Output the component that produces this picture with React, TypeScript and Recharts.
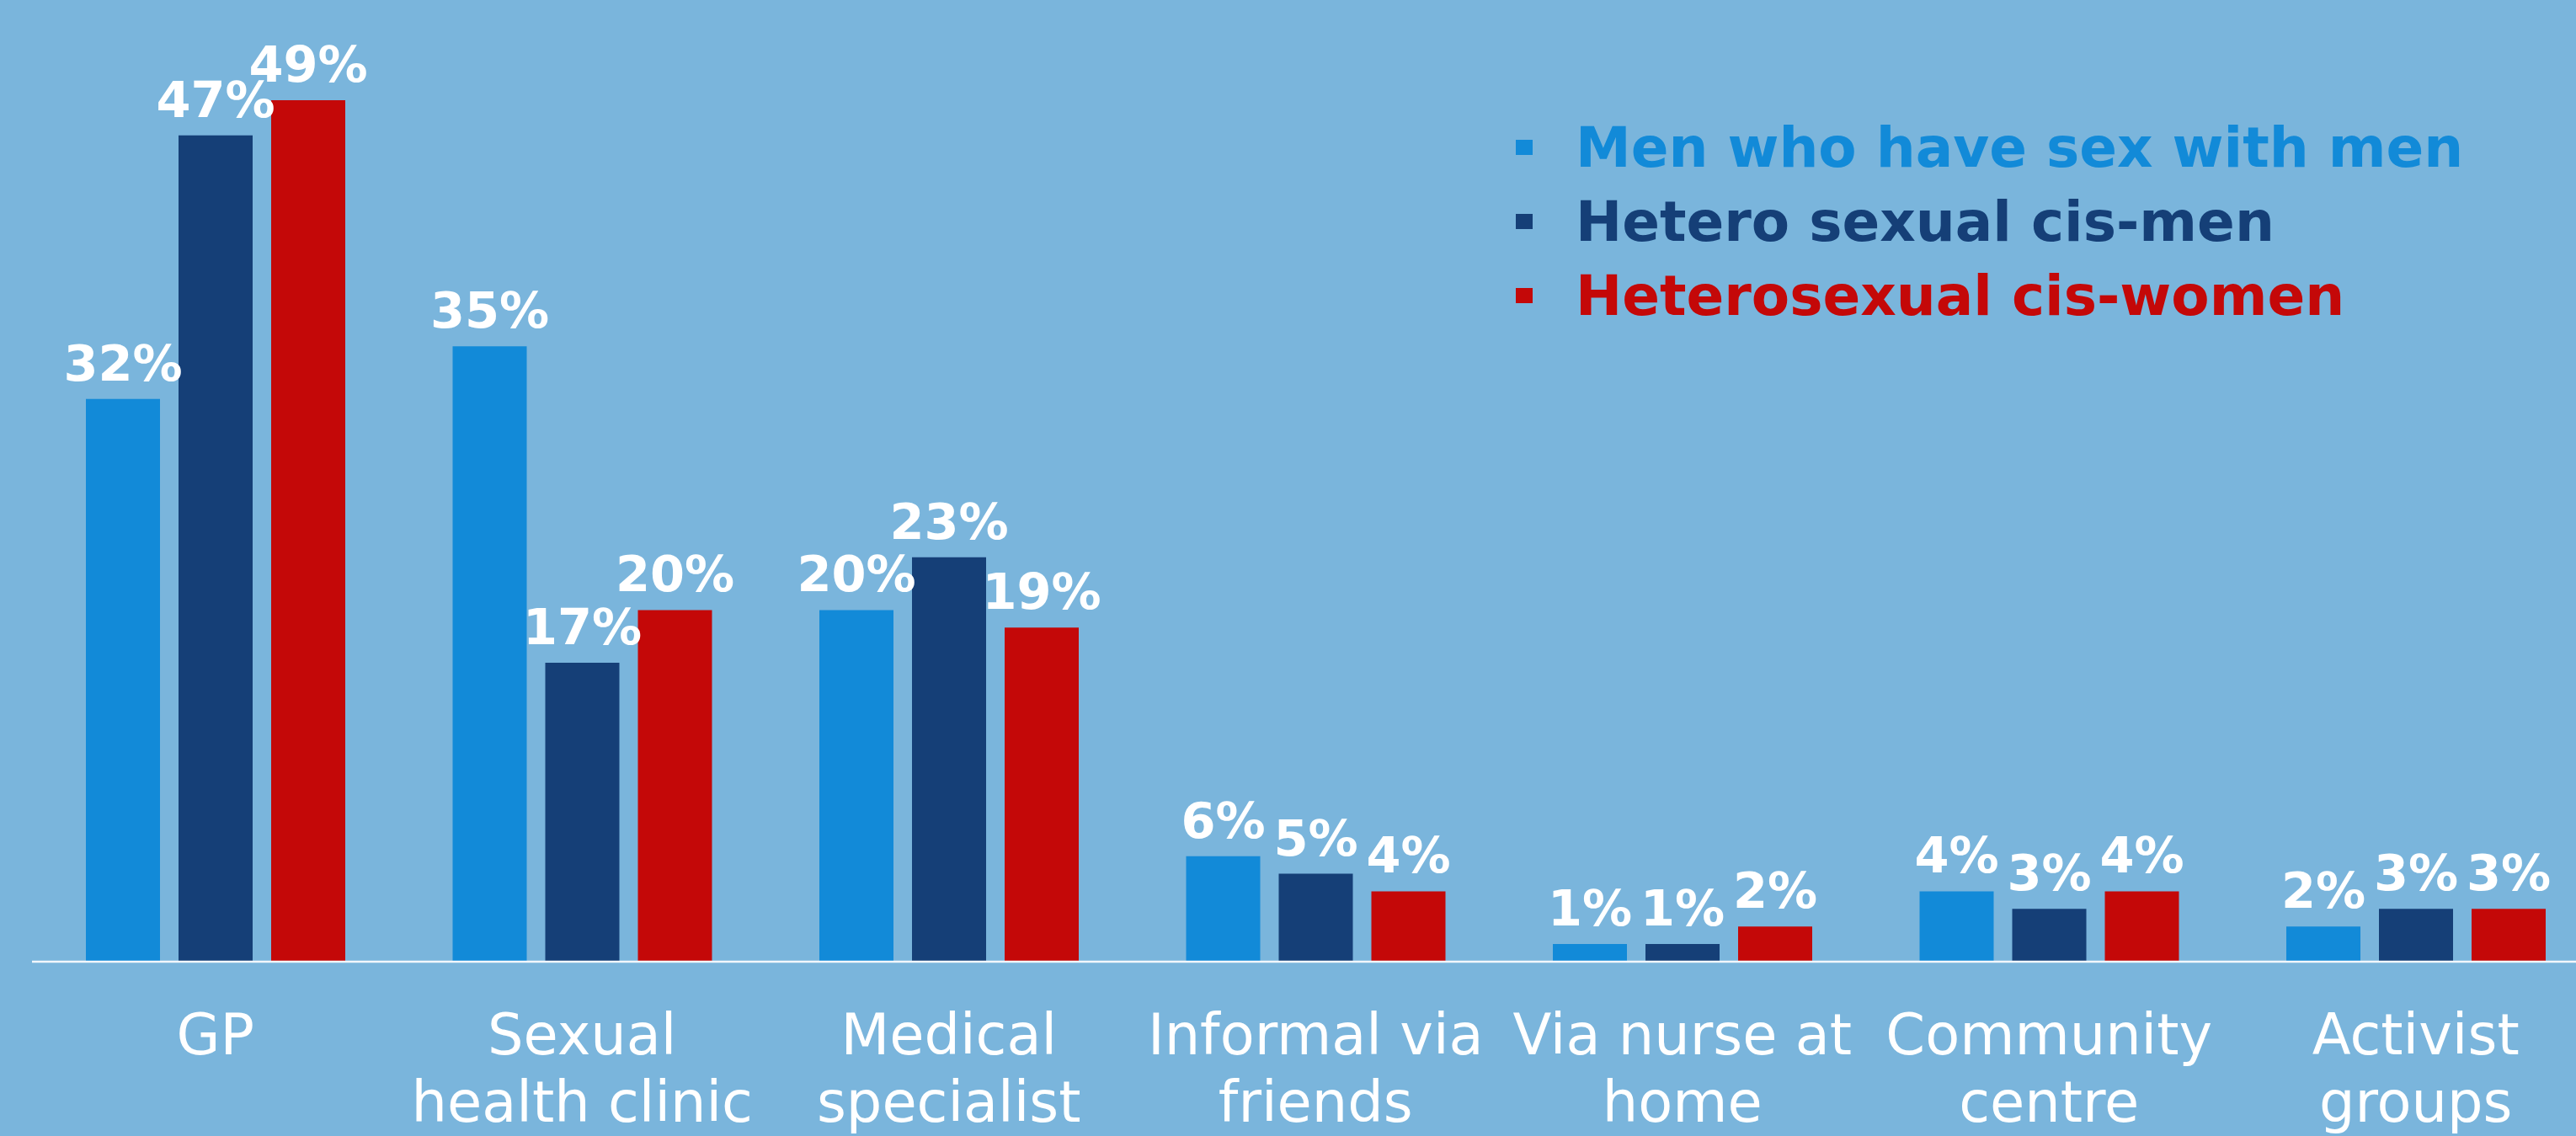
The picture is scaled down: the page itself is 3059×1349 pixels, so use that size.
import React from 'react';
import { BarChart, Bar, XAxis, YAxis, LabelList, Legend } from 'recharts';

const categories = [
  ['GP'],
  ['Sexual', 'health clinic'],
  ['Medical', 'specialist'],
  ['Informal via', 'friends'],
  ['Via nurse at', 'home'],
  ['Community', 'centre'],
  ['Activist', 'groups'],
];
const msm = [32, 35, 20, 6, 1, 4, 2];
const heteroMen = [47, 17, 23, 5, 1, 3, 3];
const heteroWomen = [49, 20, 19, 4, 2, 4, 3];

const seriesNames = ['Men who have sex with men', 'Hetero sexual cis-men', 'Heterosexual cis-women'];
const colors = ['#128ad8', '#153f77', '#c40808'];

const data = categories.map((c, i) => ({
  name: c.join('\n'),
  msm: msm[i],
  heteroMen: heteroMen[i],
  heteroWomen: heteroWomen[i],
}));

const FONT = '"DejaVu Sans", Verdana, sans-serif';

const CategoryTick = (props: any) => {
  const { x, y, payload } = props;
  const lines = String(payload.value).split('\n');
  return (
    <text x={x} y={y} textAnchor="middle" fill="#ffffff" fontFamily={FONT} fontSize={67}>
      {lines.map((l: string, i: number) => (
        <tspan key={i} x={x} y={y + 110 + i * 80}>{l}</tspan>
      ))}
    </text>
  );
};

const LegendContent = () => (
  <div style={{ fontFamily: FONT, fontWeight: 'bold', fontSize: 66 }}>
    {seriesNames.map((n, i) => (
      <div key={n} style={{ display: 'flex', alignItems: 'center', height: 88, color: colors[i], whiteSpace: 'nowrap' }}>
        <span style={{ display: 'inline-block', width: 20, height: 18, background: colors[i], marginRight: 51 }} />
        <span>{n}</span>
      </div>
    ))}
  </div>
);

const labelStyle = { fill: '#ffffff', fontSize: 59, fontWeight: 'bold', fontFamily: FONT } as any;
const fmt = (v: any) => `${v}%`;

export default function App() {
  return (
    <div style={{ position: 'fixed', left: 0, top: 0, width: 3059, height: 1349, overflow: 'hidden', background: '#7ab5dc' }}>
      <BarChart
        width={3100}
        height={1349}
        data={data}
        margin={{ top: 98, right: 13.5, left: 38, bottom: 7 }}
        barSize={88}
        barGap={22}
      >
        <XAxis
          dataKey="name"
          height={200}
          interval={0}
          tickLine={false}
          tickSize={0}
          tickMargin={0}
          axisLine={{ stroke: '#f2f7fc', strokeWidth: 2.5 }}
          tick={<CategoryTick />}
        />
        <YAxis hide domain={[0, 50]} />
        <Legend
          content={<LegendContent />}
          layout="horizontal"
          verticalAlign="middle"
          align="center"
          wrapperStyle={{ position: 'absolute', left: 1800, top: 131, width: 1200 }}
        />
        <Bar dataKey="msm" name={seriesNames[0]} fill={colors[0]} isAnimationActive={false}>
          <LabelList dataKey="msm" position="top" offset={22} formatter={fmt} {...labelStyle} />
        </Bar>
        <Bar dataKey="heteroMen" name={seriesNames[1]} fill={colors[1]} isAnimationActive={false}>
          <LabelList dataKey="heteroMen" position="top" offset={22} formatter={fmt} {...labelStyle} />
        </Bar>
        <Bar dataKey="heteroWomen" name={seriesNames[2]} fill={colors[2]} isAnimationActive={false}>
          <LabelList dataKey="heteroWomen" position="top" offset={22} formatter={fmt} {...labelStyle} />
        </Bar>
      </BarChart>
    </div>
  );
}
